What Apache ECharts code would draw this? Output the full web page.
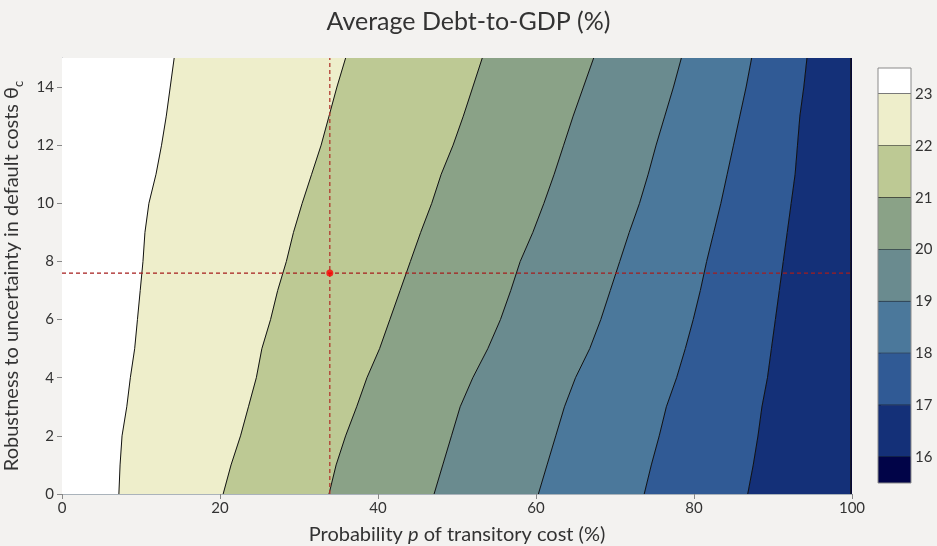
<!DOCTYPE html>
<html>
<head>
<meta charset="utf-8">
<script src="https://cdn.jsdelivr.net/npm/echarts@6/dist/echarts.min.js"></script>
<style>
html,body{margin:0;padding:0;background:#f3f2f0;}
#chart{width:937px;height:546px;}
</style>
</head>
<body>
<div id="chart"></div>
<script>
// theta grid (y axis) and contour boundaries p(theta) for each level
const thetaGrid = [0,1,2,3,4,5,6,7,8,9,10,11,12,13,14,15];
const b23 = [7.2,7.35,7.6,8.2,8.65,9.2,9.55,9.9,10.25,10.5,11.0,11.9,12.6,13.2,13.7,14.2];
const b22 = [20.4,21.4,22.6,23.6,24.6,25.3,26.4,27.3,28.4,29.3,30.4,31.6,32.8,33.8,34.8,35.9];
const b21 = [33.8,34.7,35.9,37.3,38.6,40.2,41.5,42.8,44.1,45.4,46.8,48.0,49.5,50.8,52.0,53.2];
const b20 = [47.1,48.2,49.3,50.4,52.0,53.9,55.5,56.8,58.0,59.6,61.0,62.3,63.5,64.7,66.0,67.3];
const b19 = [60.3,61.4,62.5,63.6,65.0,66.8,68.2,69.4,70.6,71.8,73.1,74.2,75.2,76.3,77.4,78.4];
const b18 = [73.7,74.6,75.6,76.5,77.8,78.9,79.9,80.8,81.6,82.5,83.4,84.2,85.0,85.8,86.6,87.3];
const b17 = [86.8,87.5,88.1,88.6,89.3,89.8,90.3,90.8,91.3,91.8,92.3,92.8,93.1,93.4,93.9,94.3];
const b16 = [99.85,99.85,99.85,99.85,99.85,99.85,99.85,99.85,99.85,99.85,99.85,99.85,99.85,99.85,99.85,99.85];
const levels = [23,22,21,20,19,18,17,16];
const bandColors = ['#ffffff','#eeeecb','#bdc994','#8aa287','#6a8b8f','#4b789b','#305a95','#143078','#010448'];
const xTicks = [0,20,40,60,80,100];
const yTicks = [0,2,4,6,8,10,12,14];
const markerP = 33.9;
const markerTheta = 7.6;

const boundaries = [b23,b22,b21,b20,b19,b18,b17,b16];
const xMin = 0, xMax = 100, yMin = 0, yMax = 15;
const cbMin = 15.5, cbMax = 23.5;

const chart = echarts.init(document.getElementById('chart'), null, {renderer:'canvas'});
const FONT = 'Lato, "Noto Sans", sans-serif';
const TXT = '#333333';

const bandSeries = {
  type:'custom', xAxisIndex:0, yAxisIndex:0, clip:true, silent:true,
  data: bandColors.map((c,i)=>[i]),
  encode:{x:-1,y:-1},
  renderItem:function(params, api){
    const i = api.value(0);
    const left = i===0 ? thetaGrid.map(()=>xMin) : boundaries[i-1];
    const right = i===boundaries.length ? thetaGrid.map(()=>xMax) : boundaries[i];
    const pts = [];
    for (let j=0;j<thetaGrid.length;j++) pts.push(api.coord([left[j], thetaGrid[j]]));
    for (let j=thetaGrid.length-1;j>=0;j--) pts.push(api.coord([right[j], thetaGrid[j]]));
    return {type:'polygon', shape:{points:pts}, style:{fill:bandColors[i], stroke:bandColors[i], lineWidth:0.5}};
  }
};

const lineSeries = boundaries.map((b,k)=>({
  type:'line', xAxisIndex:0, yAxisIndex:0, symbol:'none', silent:true,
  data: thetaGrid.map((t,j)=>[b[j], t]),
  lineStyle:{color:'#111111', width:1}, z:3
}));

const cbSeries = {
  type:'custom', xAxisIndex:1, yAxisIndex:1, silent:true,
  data: bandColors.map((c,i)=>[i]),
  encode:{x:-1,y:-1},
  renderItem:function(params, api){
    const i = api.value(0);
    const hi = i===0 ? cbMax : levels[i-1];
    const lo = i===levels.length ? cbMin : levels[i];
    const p1 = api.coord([0, hi]);
    const p2 = api.coord([1, lo]);
    const children = [{type:'rect', shape:{x:p1[0], y:p1[1], width:p2[0]-p1[0], height:p2[1]-p1[1]}, style:{fill:bandColors[i]}}];
    if (i < levels.length) {
      children.push({type:'line', shape:{x1:p1[0], y1:p2[1], x2:p2[0], y2:p2[1]}, style:{stroke:'#111', lineWidth:1}});
    }
    return {type:'group', children:children};
  }
};

chart.setOption({
  backgroundColor:'#f3f2f0',
  animation:false,
  textStyle:{fontFamily:FONT},
  title:{text:'Average Debt-to-GDP (%)', left:'center', top:4,
    textStyle:{fontFamily:FONT, fontSize:25, fontWeight:'normal', color:TXT}},
  grid:[
    {left:62, top:58, width:790, height:436, containLabel:false, outerBoundsMode:'none'},
    {left:878, top:68, width:33, height:415, show:true, borderColor:'#8a8a8a', borderWidth:1, backgroundColor:'transparent', z:5, containLabel:false, outerBoundsMode:'none'}
  ],
  xAxis:[
    {type:'value', gridIndex:0, min:xMin, max:xMax, interval:20,
      name:'Probability {i|p} of transitory cost (%)', nameLocation:'middle', nameGap:31,
      nameTextStyle:{fontFamily:FONT, fontSize:20, color:TXT, rich:{i:{fontFamily:FONT, fontSize:20, fontStyle:'italic', color:TXT}}},
      axisLine:{lineStyle:{color:'#aab3bb'}}, axisTick:{length:5, lineStyle:{color:'#888'}, customValues:xTicks},
      axisLabel:{fontFamily:FONT, fontSize:15, color:TXT, margin:7, customValues:xTicks}, splitLine:{show:false}},
    {type:'value', gridIndex:1, min:0, max:1, show:false}
  ],
  yAxis:[
    {type:'value', gridIndex:0, min:yMin, max:yMax, interval:2,
      name:'Robustness to uncertainty in default costs θ{sub|c}', nameLocation:'middle', nameGap:30,
      nameTextStyle:{fontFamily:FONT, fontSize:20, color:TXT, rich:{sub:{fontFamily:FONT, fontSize:13, color:TXT, verticalAlign:'bottom', padding:[0,0,-4,0]}}},
      axisLine:{show:true, lineStyle:{color:'#aab3bb'}}, axisTick:{show:true, length:5, lineStyle:{color:'#888'}, customValues:yTicks},
      axisLabel:{fontFamily:FONT, fontSize:15, color:TXT, margin:8, customValues:yTicks}, splitLine:{show:false}},
    {type:'value', gridIndex:1, min:cbMin, max:cbMax, position:'right',
      axisLine:{show:false}, axisTick:{show:true, length:3, inside:false, lineStyle:{color:'#111'}, customValues:levels},
      axisLabel:{fontFamily:FONT, fontSize:15, color:TXT, margin:4, customValues:levels}, splitLine:{show:false}}
  ],
  series:[
    bandSeries,
    ...lineSeries,
    {type:'line', xAxisIndex:0, yAxisIndex:0, symbol:'none', silent:true, z:4,
      data:[[markerP,yMin],[markerP,yMax]], lineStyle:{color:'#b03a30', width:1.3, type:[4,3]}},
    {type:'line', xAxisIndex:0, yAxisIndex:0, symbol:'none', silent:true, z:4,
      data:[[xMin,markerTheta],[xMax,markerTheta]], lineStyle:{color:'#a51c1c', width:1.3, type:[4,3]}},
    {type:'scatter', xAxisIndex:0, yAxisIndex:0, symbolSize:7, z:6, silent:true,
      data:[[markerP, markerTheta]], itemStyle:{color:'#ff0000'}},
    cbSeries
  ]
});
</script>
</body>
</html>
